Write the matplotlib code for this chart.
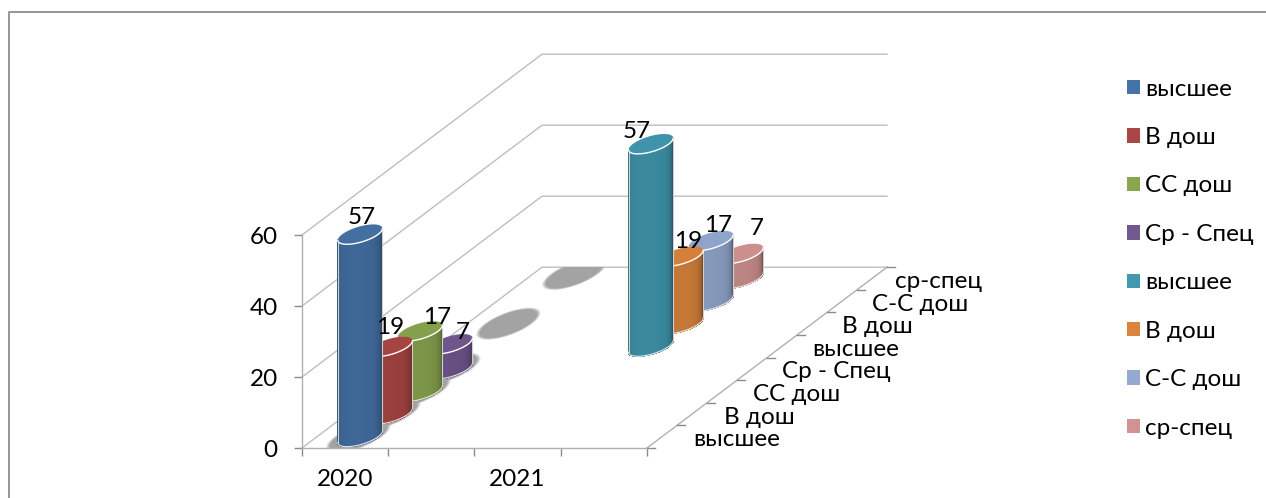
import numpy as np
import matplotlib
matplotlib.use('Agg')
import matplotlib.pyplot as plt
from matplotlib.collections import PolyCollection
from matplotlib.colors import to_rgb
from matplotlib.patches import Patch, Polygon

plt.rcParams['font.family'] = ['Lato', 'Noto Sans', 'DejaVu Sans']

years = ['2020', '', '2021', '']
series_names = ['высшее', 'В дош', 'СС дош', 'Ср - Спец', 'высшее', 'В дош', 'С-С дош', 'ср-спец']
series_values = [57, 19, 17, 7, 57, 19, 17, 7]
series_cat = [0.5, 0.5, 0.5, 0.5, 2.48, 2.48, 2.48, 2.48]
series_colors = ['#4572A7', '#AA4643', '#89A54E', '#71588F', '#4198AF', '#DB843D', '#93A9CF', '#D19392']
value_ticks = [0, 20, 40, 60]

# на нулевых столбцах в оригинале видна только тень
empty_depths = [5.5, 7.7]

label_dx = [2, 0, 17, 13, -14, 7, 7, 16]
label_dy = [17, 19, 14, 12, 12, 15, 15, 25]
depth_label_dx = [-2, -1, -2, -3, -3, -3, -3, -10]

W, H = 1266, 498
PX_CAT = 86.25
PX_VAL = 3.55
ORIGIN_X, ORIGIN_Y = 302, 448

# косая проекция: шаг по глубине в единицах осей
DX = 30 / PX_CAT
DZ = 22.6 / PX_VAL
N_CAT = len(years)
N_DEPTH = len(series_names)
R_CAT = 0.209
R_DEPTH = 0.44
FS = 17.5


def project(cat, depth, val):
    return cat + np.asarray(depth) * DX, val + np.asarray(depth) * DZ


def ring(cat, depth, val, t, s_cat=1.0, s_depth=1.0):
    return project(cat + R_CAT * s_cat * np.cos(t), depth + R_DEPTH * s_depth * np.sin(t), val)


def shade(color, f):
    return tuple(min(1, c * f) for c in to_rgb(color))


def draw_shadow(cat, depth, clip):
    t = np.linspace(0, 2 * np.pi, 80)
    for s, alpha in zip([1.45, 1.4, 1.35, 1.3], [0.25, 0.35, 0.5, 1.0]):
        x, y = ring(cat - 0.02, depth, 0, t, s * 0.92, s * 1.12)
        p = ax.fill(x, y, color='#A3A3A3', alpha=alpha, lw=0, zorder=2)[0]
        p.set_clip_path(clip)


def draw_cylinder(cat, depth, val, color, z):
    t0 = np.arctan2(R_DEPTH * DX, R_CAT)
    t = np.linspace(t0 - np.pi, t0, 41)
    xb, yb = ring(cat, depth, 0, t)
    xt, yt = ring(cat, depth, val, t)
    quads, colors = [], []
    for i in range(len(t) - 1):
        quads.append([(xb[i], yb[i]), (xb[i + 1], yb[i + 1]), (xt[i + 1], yt[i + 1]), (xt[i], yt[i])])
        s = (i + 0.5) / (len(t) - 1) * 2 - 1
        colors.append(shade(color, 0.9 - 0.28 * abs(s) ** 4 - 0.12 * max(s, 0) ** 2))
    ax.add_collection(PolyCollection(quads, facecolors=colors, edgecolors=colors, linewidths=0.5,
                                     antialiaseds=False, zorder=z))
    ax.plot(xb, yb, color='#E4E4E4', lw=0.8, zorder=z)
    ax.plot([xb[0], xt[0]], [yb[0], yt[0]], color='#D0D0D0', lw=0.8, zorder=z)
    ax.plot([xb[-1], xt[-1]], [yb[-1], yt[-1]], color='#D0D0D0', lw=0.8, zorder=z)
    tt = np.linspace(0, 2 * np.pi, 80)
    x, y = ring(cat, depth, val, tt)
    ax.fill(x, y, color=shade(color, 0.97), lw=0, zorder=z)
    ax.plot(xt, yt, color='white', lw=1.0, zorder=z)


fig = plt.figure(figsize=(W / 100, H / 100), dpi=100)
ax = fig.add_axes([0, 0, 1, 1])
ax.set_xlim(-ORIGIN_X / PX_CAT, (W - ORIGIN_X) / PX_CAT)
ax.set_ylim(-(H - ORIGIN_Y) / PX_VAL, ORIGIN_Y / PX_VAL)
ax.patch.set_visible(False)

for name in ['top', 'right']:
    ax.spines[name].set_visible(False)
for name in ['left', 'bottom']:
    ax.spines[name].set_position(('data', 0))
    ax.spines[name].set_color('#B0B0B0')
    ax.spines[name].set_linewidth(1.0)
ax.spines['left'].set_bounds(0, value_ticks[-1])
ax.spines['bottom'].set_bounds(0, N_CAT)

ax.set_yticks(value_ticks)
ax.tick_params(axis='y', length=5.5, width=1, color='#8C8C8C', pad=12, labelsize=FS)
ax.set_xticks(range(N_CAT + 1), labels=[''] * (N_CAT + 1))
ax.tick_params(axis='x', which='major', length=5.5, width=1, color='#8C8C8C')
ax.set_xticks(np.arange(N_CAT) + 0.5, labels=years, minor=True)
ax.tick_params(axis='x', which='minor', length=0, pad=15, labelsize=FS)

# сетка: левая стенка и задняя стенка
for v in value_ticks:
    x, y = project(np.array([0, 0, N_CAT]), np.array([0, N_DEPTH, N_DEPTH]), v)
    ax.plot(x, y, color='#BEBEBE', lw=1, zorder=1)
x, y = project(np.array([N_CAT, N_CAT]), np.array([0, N_DEPTH]), 0)
ax.plot(x, y, color='#B0B0B0', lw=1, zorder=1)

# ось глубины
for d in range(N_DEPTH + 1):
    x, y = project(N_CAT, d, 0)
    ax.plot([x, x + 8 / PX_CAT], [y, y], color='#8C8C8C', lw=1, zorder=1)
for d, name in enumerate(series_names):
    x, y = project(N_CAT, d + 0.5, 0)
    ax.text(x + (33 + depth_label_dx[d]) / PX_CAT, y - 3 / PX_VAL, name, fontsize=FS, ha='left', va='center', color='black')

fx, fy = project(np.array([0, N_CAT, N_CAT, 0]), np.array([0, 0, N_DEPTH, N_DEPTH]), 0)
floor = Polygon(np.column_stack([fx, fy]), transform=ax.transData, fill=False, lw=0)
ax.add_patch(floor)

for d in empty_depths:
    draw_shadow(0.5, d, floor)

for i in range(N_DEPTH):
    if series_cat[i] < 1:
        draw_shadow(series_cat[i], i + 0.5, floor)

for i in range(N_DEPTH - 1, -1, -1):
    draw_cylinder(series_cat[i], i + 0.5, series_values[i], series_colors[i], 5 + N_DEPTH - i)

for i in range(N_DEPTH):
    tx, ty = project(series_cat[i], i + 0.5, series_values[i])
    ax.annotate(str(series_values[i]), (tx, ty), xytext=(label_dx[i], label_dy[i]), textcoords='offset pixels',
                ha='center', va='center', fontsize=FS, zorder=30)

handles = [Patch(facecolor=c, edgecolor='none', label=n) for c, n in zip(series_colors, series_names)]
ax.legend(handles=handles, loc='upper left', bbox_to_anchor=(1127 / W, 1 - 78.5 / H), frameon=False,
          fontsize=FS, handlelength=0.54, handleheight=0.54, handletextpad=0.2, labelspacing=1.13,
          borderaxespad=0, borderpad=0)

ax.plot([9 / W, 9 / W, 1], [0, 1 - 12.5 / H, 1 - 12.5 / H], transform=ax.transAxes, color='#969696', lw=1.4, clip_on=False)

fig.savefig('out.png', dpi=100)
